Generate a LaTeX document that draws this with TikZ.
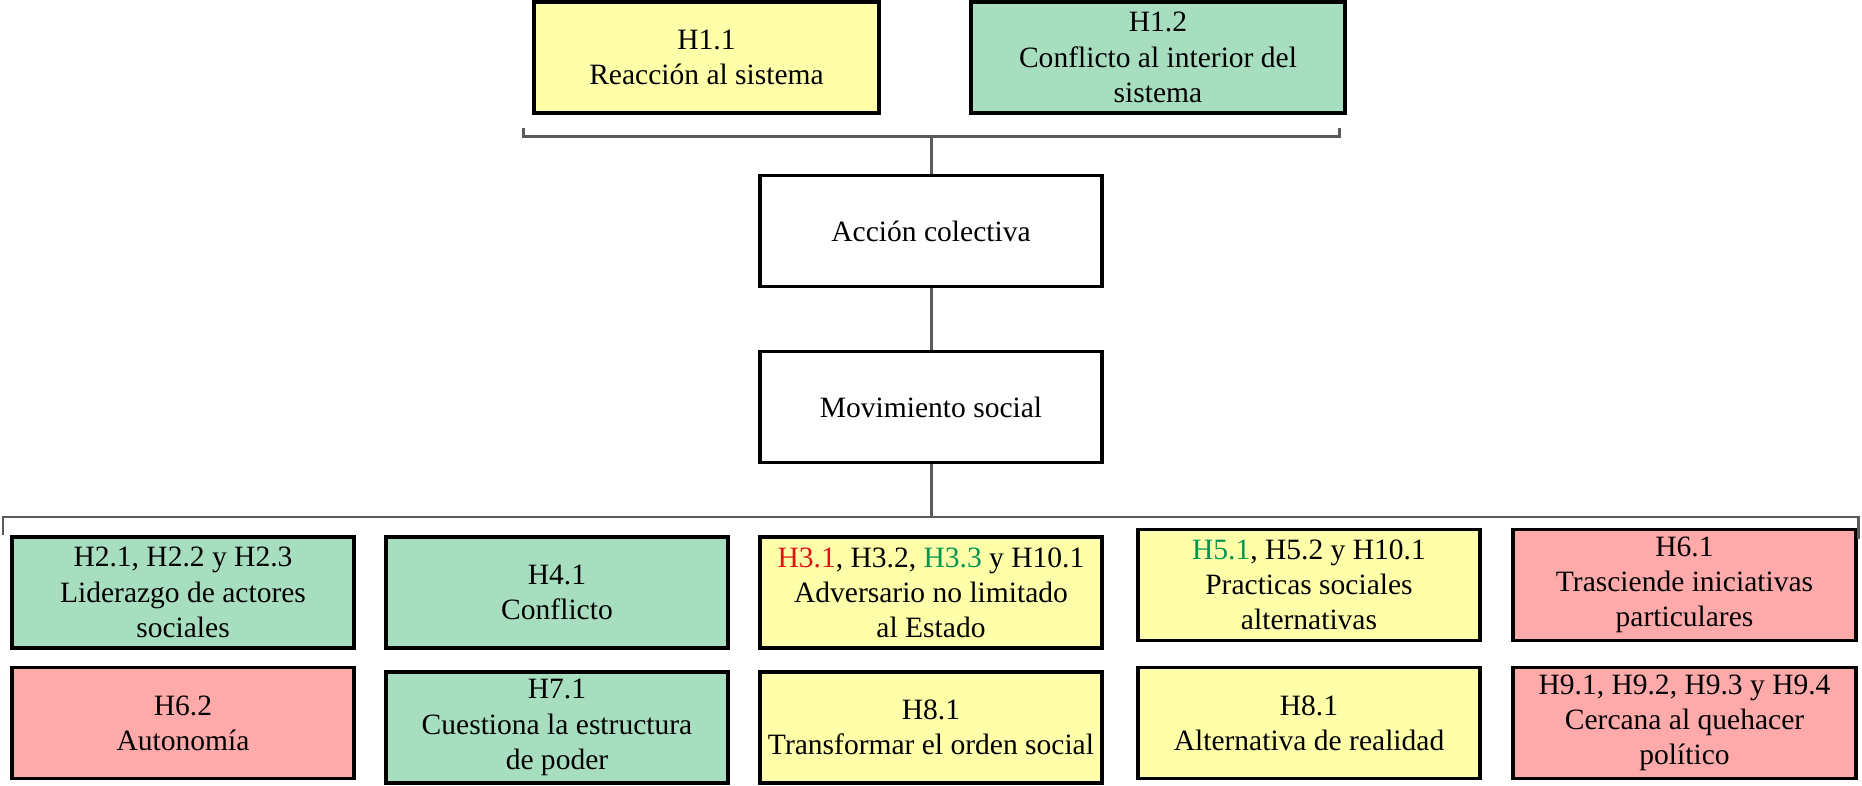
\documentclass[tikz,border=0pt]{standalone}
\usepackage{fontspec}
\setmainfont{Liberation Serif}
\usetikzlibrary{calc}

\definecolor{amarillo}{RGB}{255,255,170}
\definecolor{verde}{RGB}{168,222,192}
\definecolor{rosa}{RGB}{255,170,170}
\definecolor{rojotxt}{RGB}{220,20,20}
\definecolor{verdetxt}{RGB}{0,150,80}
\definecolor{gris}{RGB}{90,90,90}

\begin{document}
\begin{tikzpicture}[
    caja/.style={rectangle, draw=black, line width=0.9pt, fill=#1, minimum width=3.42cm, minimum height=1.11cm, align=center, inner sep=1pt, font=\fontsize{8.4}{10}\selectfont},
    caja/.default=white,
    conector/.style={draw=gris, line width=0.85pt}
]
    \useasboundingbox (0,0) rectangle (18.62,-7.86);

    % Hipotesis de partida
    \node[caja=amarillo, minimum width=3.45cm] (h11) at (7.065,-0.575) {H1.1\\Reacción al sistema};
    \node[caja=verde, minimum width=3.74cm] (h12) at (11.58,-0.575) {H1.2\\Conflicto al interior del\\sistema};

    % Cadena central
    \node[caja] (accion) at (9.31,-2.31) {Acción colectiva};
    \node[caja] (movimiento) at (9.31,-4.07) {Movimiento social};

    % Primera fila
    \node[caja=verde] (h2) at (1.83,-5.925) {H2.1, H2.2 y H2.3\\Liderazgo de actores\\sociales};
    \node[caja=verde] (h4) at (5.57,-5.925) {H4.1\\Conflicto};
    \node[caja=amarillo] (h3) at (9.31,-5.925) {\textcolor{rojotxt}{H3.1}, H3.2, \textcolor{verdetxt}{H3.3} y H10.1\\Adversario no limitado\\al Estado};
    \node[caja=amarillo] (h5) at (13.09,-5.85) {\textcolor{verdetxt}{H5.1}, H5.2 y H10.1\\Practicas sociales\\alternativas};
    \node[caja=rosa, minimum width=3.43cm] (h61) at (16.845,-5.85) {H6.1\\Trasciende iniciativas\\particulares};

    % Segunda fila
    \node[caja=rosa] (h62) at (1.83,-7.23) {H6.2\\Autonomía};
    \node[caja=verde] (h7) at (5.57,-7.275) {H7.1\\Cuestiona la estructura\\de poder};
    \node[caja=amarillo] (h81) at (9.31,-7.275) {H8.1\\Transformar el orden social};
    \node[caja=amarillo] (h82) at (13.09,-7.23) {H8.1\\Alternativa de realidad};
    \node[caja=rosa, minimum width=3.43cm] (h9) at (16.845,-7.23) {H9.1, H9.2, H9.3 y H9.4\\Cercana al quehacer\\político};

    % Llaves
    \coordinate (si) at (5.23,-1.37);
    \coordinate (sd) at (13.39,-1.37);
    \coordinate (ii) at (0.03,-5.17);
    \coordinate (id) at (18.58,-5.17);

    \draw[conector] ($(si)+(0,0.09)$) -- (si) -- (sd) -- ++(0,0.09);
    \draw[conector] ($(ii)+(0,-0.18)$) -- (ii) -- (id) -- ++(0,-0.22);

    % Conexiones
    \draw[conector] (accion.north |- si) -- (accion.north);
    \draw[conector] (accion.south) -- (movimiento.north);
    \draw[conector] (movimiento.south) -- (movimiento.south |- ii);
\end{tikzpicture}
\end{document}
